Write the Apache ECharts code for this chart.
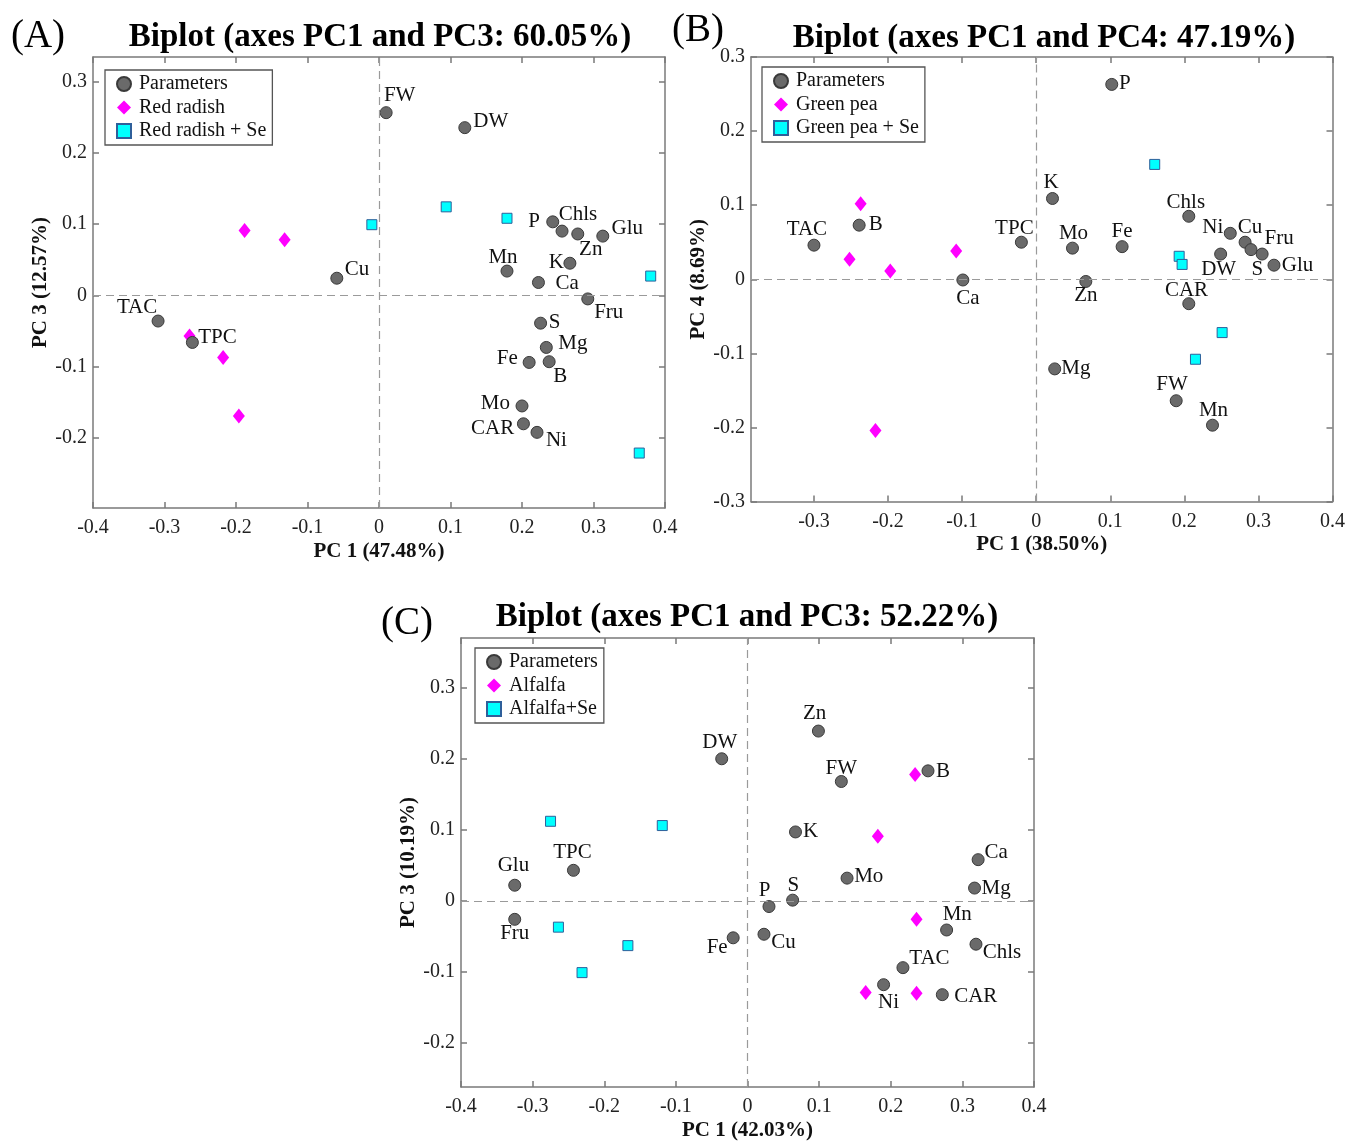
<!DOCTYPE html>
<html><head><meta charset="utf-8">
<script src="https://cdn.jsdelivr.net/npm/echarts@6/dist/echarts.min.js"></script>
<style>html,body{margin:0;padding:0;background:#fff}#c{width:1348px;height:1142px}</style>
</head><body><div id="c"></div>
<script>
// ---------- Panel A: Red radish (PC1 vs PC3) ----------
const aNames = ['FW','DW','P','Chls','Zn','Glu','K','Mn','Ca','Fru','Cu','TAC','TPC','S','Mg','Fe','B','Mo','CAR','Ni'];
const aX = [0.010,0.120,0.243,0.256,0.278,0.313,0.267,0.179,0.223,0.292,-0.059,-0.309,-0.261,0.226,0.234,0.210,0.238,0.200,0.202,0.221];
const aY = [0.256,0.235,0.103,0.090,0.086,0.083,0.045,0.034,0.018,-0.005,0.024,-0.036,-0.066,-0.039,-0.073,-0.094,-0.093,-0.155,-0.180,-0.192];
const aCtrlX = [-0.188,-0.132,-0.265,-0.218,-0.196];
const aCtrlY = [0.091,0.078,-0.057,-0.087,-0.169];
const aSeX = [-0.010,0.094,0.179,0.380,0.364];
const aSeY = [0.099,0.124,0.108,0.027,-0.221];
const aXTicks = [-0.4,-0.3,-0.2,-0.1,0,0.1,0.2,0.3,0.4];
const aYTicks = [-0.2,-0.1,0,0.1,0.2,0.3];

// ---------- Panel B: Green pea (PC1 vs PC4) ----------
const bNames = ['P','K','TAC','B','TPC','Mo','Fe','Ca','Zn','Chls','Ni','Cu','S','Fru','DW','Glu','CAR','Mg','FW','Mn'];
const bX = [0.102,0.022,-0.300,-0.239,-0.020,0.049,0.116,-0.099,0.067,0.206,0.262,0.282,0.290,0.305,0.249,0.321,0.206,0.025,0.189,0.238];
const bY = [0.263,0.109,0.046,0.073,0.050,0.042,0.044,-0.001,-0.003,0.085,0.062,0.050,0.040,0.034,0.034,0.019,-0.033,-0.121,-0.164,-0.197];
const bCtrlX = [-0.237,-0.252,-0.197,-0.108,-0.217];
const bCtrlY = [0.102,0.027,0.011,0.038,-0.204];
const bSeX = [0.160,0.193,0.197,0.251,0.215];
const bSeY = [0.155,0.031,0.020,-0.072,-0.108];
const bXTicks = [-0.3,-0.2,-0.1,0,0.1,0.2,0.3,0.4];
const bYTicks = [-0.3,-0.2,-0.1,0,0.1,0.2,0.3];

// ---------- Panel C: Alfalfa (PC1 vs PC3) ----------
const cNames = ['DW','Zn','FW','B','K','Ca','Mo','Mg','Glu','TPC','Fru','P','S','Fe','Cu','Mn','Chls','TAC','Ni','CAR'];
const cX = [-0.036,0.099,0.131,0.252,0.067,0.322,0.139,0.317,-0.325,-0.243,-0.325,0.030,0.063,-0.020,0.023,0.278,0.319,0.217,0.190,0.272];
const cY = [0.200,0.239,0.168,0.183,0.097,0.058,0.032,0.018,0.022,0.043,-0.026,-0.008,0.001,-0.052,-0.047,-0.041,-0.061,-0.094,-0.118,-0.132];
const cCtrlX = [0.234,0.182,0.236,0.165,0.236];
const cCtrlY = [0.178,0.091,-0.026,-0.129,-0.130];
const cSeX = [-0.275,-0.119,-0.264,-0.167,-0.231];
const cSeY = [0.112,0.106,-0.037,-0.063,-0.101];
const cXTicks = [-0.4,-0.3,-0.2,-0.1,0,0.1,0.2,0.3,0.4];
const cYTicks = [-0.2,-0.1,0,0.1,0.2,0.3];

// ---------- label placement (pixel offsets of each label from its point) ----------
const aLabelOff = {FW:[13.5,-17],DW:[26,-6],P:[-18.7,0],Chls:[16,-17],Zn:[13,15.5],Glu:[24.5,-8],K:[-13.5,-1],Mn:[-4,-14],Ca:[28.7,0.7],Fru:[21,13.7],Cu:[20.3,-8.5],TAC:[-21,-14],TPC:[25,-5],S:[14,-1],Mg:[26.5,-3.5],Fe:[-21.8,-3.7],B:[11,14.5],Mo:[-26.7,-2.7],CAR:[-30.8,4.7],Ni:[19.4,7.8]};
const bLabelOff = {P:[13,-1.3],K:[-1.5,-16.3],TAC:[-7,-15.2],B:[16.5,-0.7],TPC:[-7,-13.3],Mo:[1,-14.8],Fe:[0,-15.5],Ca:[5,18],Zn:[0,14.4],Chls:[-3,-14],Ni:[-17.5,-5.7],Cu:[5,-14.6],S:[6.3,20],Fru:[17,-15.8],DW:[-2,15.8],Glu:[23.5,0.7],CAR:[-2.3,-13.5],Mg:[21.2,0],FW:[-4.2,-16.4],Mn:[1,-14.4]};
const cLabelOff = {DW:[-2,-16],Zn:[-3.7,-17.9],FW:[0,-13.5],B:[15,1],K:[15,0],Ca:[18,-7.2],Mo:[21.7,-1.2],Mg:[21.5,0.7],Glu:[-1.3,-19.3],TPC:[-1,-18],Fru:[0,14.5],P:[-4.5,-16.5],S:[0.7,-14.8],Fe:[-16,10],Cu:[19.5,8],Mn:[10.6,-15.5],Chls:[26,8.5],TAC:[26.5,-9],Ni:[5,18],CAR:[33.4,2.3]};

const FONT = '"Liberation Serif", "Times New Roman", Times, serif';
const AXC = '#7a7a7a';
const fmt = v => String(Math.round(v * 10) / 10);

const panels = [
  {grid:{left:93, top:57, width:572, height:451}, xr:[-0.4,0.4], yr:[-0.298,0.334], xt:aXTicks, yt:aYTicks,
   xName:'PC 1 (47.48%)', yName:'PC 3 (12.57%)', names:aNames, px:aX, py:aY, cx:aCtrlX, cy:aCtrlY, sx:aSeX, sy:aSeY,
   ctrl:'Red radish', se:'Red radish + Se', off:aLabelOff, legend:{left:105, top:70},
   title:'Biplot (axes PC1 and PC3: 60.05%)', tx:380, ty:37, tag:'(A)', gx:38, gy:37},
  {grid:{left:751, top:57, width:582, height:444.5}, xr:[-0.385,0.4], yr:[-0.3,0.3], xt:bXTicks, yt:bYTicks,
   xName:'PC 1 (38.50%)', yName:'PC 4 (8.69%)', names:bNames, px:bX, py:bY, cx:bCtrlX, cy:bCtrlY, sx:bSeX, sy:bSeY,
   ctrl:'Green pea', se:'Green pea + Se', off:bLabelOff, legend:{left:762, top:67},
   title:'Biplot (axes PC1 and PC4: 47.19%)', tx:1044, ty:38, tag:'(B)', gx:698, gy:31},
  {grid:{left:461, top:638, width:573, height:453}, xr:[-0.4,0.4], yr:[-0.262,0.37], xt:cXTicks, yt:cYTicks,
   xName:'PC 1 (42.03%)', yName:'PC 3 (10.19%)', names:cNames, px:cX, py:cY, cx:cCtrlX, cy:cCtrlY, sx:cSeX, sy:cSeY,
   ctrl:'Alfalfa', se:'Alfalfa+Se', off:cLabelOff, legend:{left:475, top:648},
   title:'Biplot (axes PC1 and PC3: 52.22%)', tx:747, ty:617, tag:'(C)', gx:407, gy:624}
];

const grid = [], xAxis = [], yAxis = [], series = [], legend = [], graphic = [];
const lineStyle = {color:AXC, width:1.5};

panels.forEach((p, i) => {
  grid.push(p.grid);
  const xi = xAxis.length, yi = yAxis.length;
  xAxis.push({gridIndex:i, type:'value', min:p.xr[0], max:p.xr[1], position:'bottom',
    name:p.xName, nameLocation:'middle', nameGap:33,
    nameTextStyle:{fontFamily:FONT, fontSize:21, fontWeight:'bold', color:'#111'},
    axisLine:{show:true, onZero:false, lineStyle},
    axisTick:{show:true, inside:true, length:6, customValues:p.xt, lineStyle},
    axisLabel:{customValues:p.xt, fontFamily:FONT, fontSize:20, color:'#222', margin:10, formatter:fmt},
    splitLine:{show:false}});
  xAxis.push({gridIndex:i, type:'value', min:p.xr[0], max:p.xr[1], position:'top',
    axisLine:{show:true, onZero:false, lineStyle},
    axisTick:{show:true, inside:true, length:6, customValues:p.xt, lineStyle},
    axisLabel:{show:false}, splitLine:{show:false}});
  yAxis.push({gridIndex:i, type:'value', min:p.yr[0], max:p.yr[1], position:'left',
    name:p.yName, nameLocation:'middle', nameGap:40,
    nameTextStyle:{fontFamily:FONT, fontSize:21, fontWeight:'bold', color:'#111'},
    axisLine:{show:true, onZero:false, lineStyle},
    axisTick:{show:true, inside:true, length:6, customValues:p.yt, lineStyle},
    axisLabel:{customValues:p.yt, fontFamily:FONT, fontSize:20, color:'#222', margin:6, formatter:fmt},
    splitLine:{show:false}});
  yAxis.push({gridIndex:i, type:'value', min:p.yr[0], max:p.yr[1], position:'right',
    axisLine:{show:true, onZero:false, lineStyle},
    axisTick:{show:true, inside:true, length:6, customValues:p.yt, lineStyle},
    axisLabel:{show:false}, splitLine:{show:false}});

  // dashed zero lines
  series.push({type:'scatter', name:'zero' + i, xAxisIndex:xi, yAxisIndex:yi, data:[], z:1, silent:true,
    markLine:{silent:true, symbol:['none','none'], label:{show:false}, animation:false,
      lineStyle:{type:[8,5], color:'#9a9a9a', width:1.2},
      data:[{xAxis:0},{yAxis:0}]}});
  // treatment groups
  series.push({type:'scatter', name:p.ctrl, xAxisIndex:xi, yAxisIndex:yi, z:3,
    symbol:'diamond', symbolSize:[12,15], itemStyle:{color:'#ff00ff', opacity:1},
    data:p.cx.map((x, k) => [x, p.cy[k]])});
  series.push({type:'scatter', name:p.se, xAxisIndex:xi, yAxisIndex:yi, z:3,
    symbol:'rect', symbolSize:10, itemStyle:{color:'#00ffff', borderColor:'#2f5f9a', borderWidth:1, opacity:1},
    data:p.sx.map((x, k) => [x, p.sy[k]])});
  // parameters (loadings) with labels
  series.push({type:'scatter', name:'Parameters', xAxisIndex:xi, yAxisIndex:yi, z:4,
    symbol:'circle', symbolSize:12, itemStyle:{color:'#6a6a6a', borderColor:'#3a3a3a', borderWidth:1, opacity:1},
    label:{show:true, position:'inside', fontFamily:FONT, fontSize:21, color:'#111',
      formatter:d => d.name},
    data:p.names.map((n, k) => ({name:n, value:[p.px[k], p.py[k]],
      label:{offset:p.off[n] || [14,0]}}))});

  legend.push({left:p.legend.left, top:p.legend.top, orient:'vertical',
    data:['Parameters', p.ctrl, p.se], selectedMode:false,
    backgroundColor:'#fff', borderColor:'#555', borderWidth:1.3,
    padding:[4,6,4,11], itemGap:3.5, itemWidth:14, itemHeight:14,
    textStyle:{fontFamily:FONT, fontSize:20, color:'#111', lineHeight:20, padding:[0,0,0,3]}});

  graphic.push({type:'text', x:p.tx, y:p.ty, z:10,
    style:{text:p.title, font:'bold 33px ' + FONT, fill:'#000',
      align:'center', verticalAlign:'middle', textAlign:'center', textVerticalAlign:'middle'}});
  graphic.push({type:'text', x:p.gx, y:p.gy, z:10,
    style:{text:p.tag, font:'39px ' + FONT, fill:'#000',
      align:'center', verticalAlign:'middle', textAlign:'center', textVerticalAlign:'middle'}});
});

const chart = echarts.init(document.getElementById('c'), null, {renderer:'canvas', width:1348, height:1142});
chart.setOption({animation:false, backgroundColor:'#fff', grid, xAxis, yAxis, series, legend, graphic});
</script></body></html>
